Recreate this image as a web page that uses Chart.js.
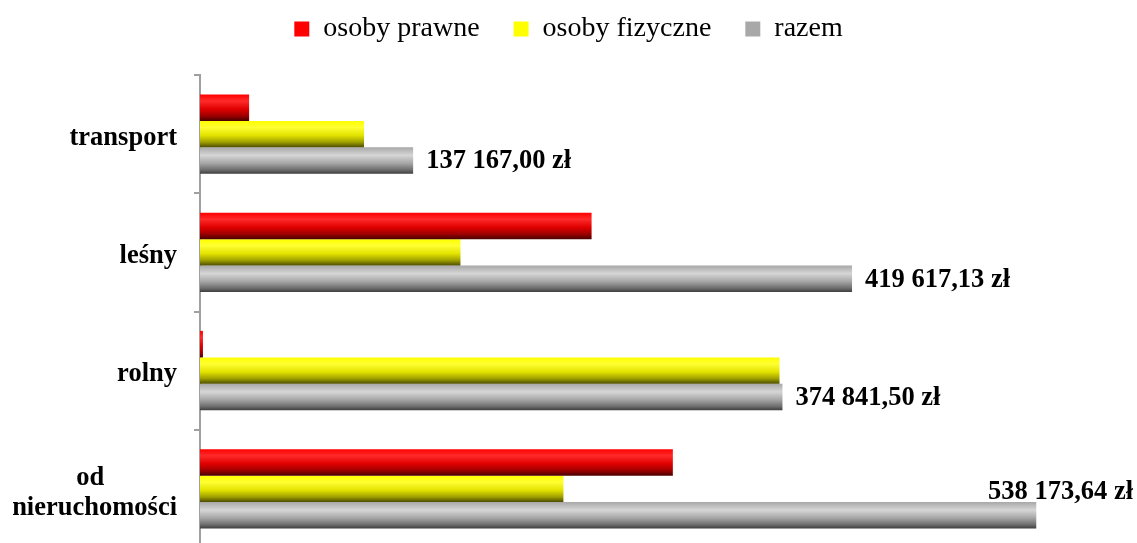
<!DOCTYPE html>
<html>
<head>
<meta charset="utf-8">
<script src="https://cdn.jsdelivr.net/npm/chart.js@4.4.1/dist/chart.umd.min.js"></script>
<style>
  html,body{margin:0;padding:0;background:#fff;overflow:hidden}
  #wrap{position:relative;width:1137px;height:560px}
</style>
</head>
<body>
<div id="wrap"><canvas id="c"></canvas></div>
<script>
// dane
const kategorie = ['transport', 'leśny', 'rolny', ['od           ', 'nieruchomości']];
const osobyPrawne   = [31600, 252000, 1900, 304300];
const osobyFizyczne = [105567, 167617.13, 372941.5, 233873.64];
const razem         = [137167.00, 419617.13, 374841.50, 538173.64];
const serie = ['osoby prawne', 'osoby fizyczne', 'razem'];

const CAT_PCT = 0.672;
const SERIF = '"Liberation Serif", "Times New Roman", serif';

// gradient "walcowy" jak w Excelu
const ramps = [
  [[0,'#ff0000'],[0.25,'#ff2a2a'],[0.55,'#e00000'],[0.8,'#a00000'],[1,'#4a0000']],
  [[0,'#ffff00'],[0.25,'#ffff33'],[0.55,'#e2e200'],[0.8,'#a0a000'],[1,'#4a4a00']],
  [[0,'#a8a8a8'],[0.3,'#d6d6d6'],[0.6,'#a6a6a6'],[0.85,'#6e6e6e'],[1,'#3c3c3c']]
];
const flat = ['#ff0000', '#ffff00', '#a6a6a6'];

function barFill(i){
  return ctx => {
    const ch = ctx.chart, y = ch.scales.y;
    if (ctx.type !== 'data' || !y) return flat[i];
    const step = y.getPixelForValue(1) - y.getPixelForValue(0);
    const h = step * CAT_PCT / 3;
    const top = y.getPixelForValue(ctx.dataIndex) - step*CAT_PCT/2 + i*h;
    if (!isFinite(top) || !isFinite(h) || h <= 0) return flat[i];
    const g = ch.ctx.createLinearGradient(0, top, 0, top + h);
    ramps[i].forEach(([o,c]) => g.addColorStop(o, c));
    return g;
  };
}

function zl(v){
  const [a,b] = v.toFixed(2).split('.');
  return a.replace(/\B(?=(\d{3})+(?!\d))/g, ' ') + ',' + b + ' zł';
}

// etykiety tylko dla serii "razem"
const etykiety = {
  id: 'etykiety',
  afterDatasetsDraw(chart){
    const c = chart.ctx, meta = chart.getDatasetMeta(2);
    c.save();
    c.font = 'bold 26.5px ' + SERIF;
    c.fillStyle = '#000';
    c.textBaseline = 'middle';
    meta.data.forEach((bar, i) => {
      const t = zl(razem[i]);
      const w = c.measureText(t).width;
      let x = bar.x + 13, y = bar.y + 1;
      if (x + w > chart.width - 4) { x = chart.width - 4 - w; y = bar.y - bar.height/2 - 10; }
      c.fillText(t, x, y);
    });
    c.restore();
  }
};

new Chart(document.getElementById('c'), {
  type: 'bar',
  data: {
    labels: kategorie,
    datasets: [osobyPrawne, osobyFizyczne, razem].map((d, i) => ({
      label: serie[i], data: d,
      backgroundColor: barFill(i),
      borderWidth: 0,
      categoryPercentage: CAT_PCT, barPercentage: 1
    }))
  },
  options: {
    indexAxis: 'y',
    responsive: true, maintainAspectRatio: false,
    animation: false,
    layout: { padding: { top: -19, right: 0, bottom: 12, left: 0 } },
    plugins: {
      legend: {
        position: 'top',
        labels: {
          boxWidth: 15, boxHeight: 15, padding: 34,
          color: '#000', font: { family: SERIF, size: 28 }
        }
      },
      // odstęp między legendą a wykresem
      subtitle: { display: true, text: '', weight: 500, font: { size: 10 }, padding: { top: 0, bottom: 10 } },
      tooltip: { enabled: false }
    },
    scales: {
      x: { display: false, min: 0, max: 603000 },
      y: {
        afterFit: s => { s.width = 200; s.paddingTop = 0; s.paddingBottom = 0; },
        border: { color: '#a0a0a0', width: 2 },
        grid: { drawOnChartArea: false, color: '#a0a0a0', tickLength: 6, lineWidth: 2, offset: true },
        ticks: {
          color: '#000', padding: 17, labelOffset: 4,
          font: { family: SERIF, size: 26.5, weight: 'bold', lineHeight: 1.13 }
        }
      }
    }
  },
  plugins: [etykiety]
});
</script>
</body>
</html>
